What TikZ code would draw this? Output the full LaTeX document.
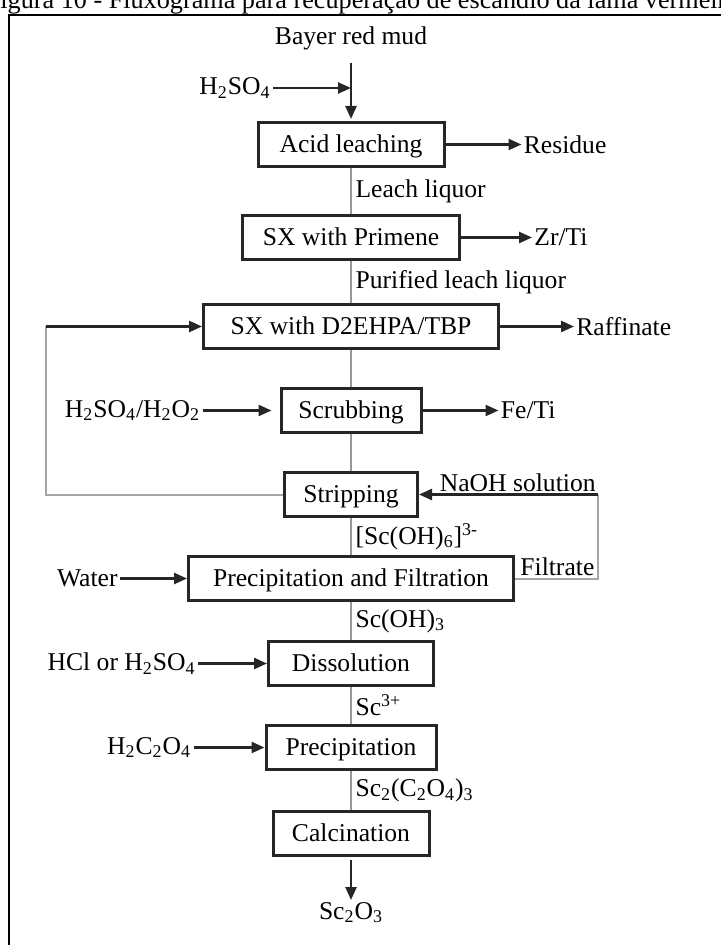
\documentclass[tikz,border=0pt]{standalone}
\usepackage{fontspec}
\setmainfont{Liberation Serif}
\usetikzlibrary{positioning, arrows.meta}
\tikzstyle{stepbox} = [rectangle, minimum height=22pt, text height=11pt, text depth=3pt, inner ysep=2pt, text centered, draw=black!85, line width=1.5pt]
\tikzstyle{chem} = [inner sep=1pt]
\tikzstyle{arrow} = [line width=1.2pt, draw=black!85, fill=black!85, -{Triangle[length=6.5pt,width=5.5pt]}]
\tikzstyle{flowline} = [draw=black!40, line width=0.6pt]
\tikzstyle{loopline} = [draw=black!35, line width=1pt]

\begin{document}
\begin{tikzpicture}[node distance=42pt, font=\fontsize{12.8}{15}\selectfont]
\useasboundingbox (0,0) rectangle (360pt,-472.5pt);

% caption and frame
\node (caption) [anchor=base west, inner sep=0pt, font=\fontsize{13.1}{15}\selectfont] at (-7.3pt,-4.5pt) {Figura 10 - Fluxograma para recuperação de escândio da lama vermelha};
\draw [line width=1.1pt] (4.5pt,-472.5pt) |- (362pt,-7.5pt);

% main column
\node (acid) [stepbox, minimum width=93pt] at (175.5pt,-72.25pt) {Acid leaching};
\node (mud) [chem, above of=acid, yshift=11pt] {Bayer red mud};
\node (primene) [stepbox, minimum width=108.5pt, below of=acid, yshift=-4.5pt] {SX with Primene};
\node (d2) [stepbox, minimum width=147.5pt, below of=primene, yshift=-2.5pt] {SX with D2EHPA/TBP};
\node (scrub) [stepbox, minimum width=70pt, below of=d2] {Scrubbing};
\node (strip) [stepbox, minimum width=66.5pt, below of=scrub] {Stripping};
\node (pf) [stepbox, minimum width=162.5pt, below of=strip] {Precipitation and Filtration};
\node (diss) [stepbox, minimum width=82.5pt, below of=pf, yshift=-0.5pt] {Dissolution};
\node (prec) [stepbox, minimum width=85pt, below of=diss] {Precipitation};
\node (calc) [stepbox, minimum width=78pt, below of=prec, yshift=-1pt] {Calcination};
\node (oxide) [chem, below=21.5pt of calc] {Sc\textsubscript{2}O\textsubscript{3}};

% feeds from the left
\coordinate (feedjoin) at ([yshift=-24.75pt]mud.center);
\node (acidfeed) [chem, left=39pt of feedjoin] {H\textsubscript{2}SO\textsubscript{4}};
\node (scrubfeed) [chem, left=38.5pt of scrub] {H\textsubscript{2}SO\textsubscript{4}/H\textsubscript{2}O\textsubscript{2}};
\node (water) [chem, left=33.5pt of pf] {Water};
\node (dissfeed) [chem, left=34.5pt of diss] {HCl or H\textsubscript{2}SO\textsubscript{4}};
\node (oxalic) [chem, left=35.5pt of prec] {H\textsubscript{2}C\textsubscript{2}O\textsubscript{4}};

% products to the right
\node (residue) [chem, right=38pt of acid] {Residue};
\node (zrti) [chem, right=35.5pt of primene] {Zr/Ti};
\node (raffinate) [chem, right=37pt of d2] {Raffinate};
\node (feti) [chem, right=38pt of scrub] {Fe/Ti};

% recycle corners
\coordinate (loopcorner) at ([xshift=-78pt]d2.west);
\coordinate (naohcorner) at ([xshift=89.5pt]strip.east);
\node (naoh) [chem, anchor=south east] at (naohcorner) {NaOH solution};
\node (filtrate) [chem, anchor=south west, xshift=1.5pt] at (pf.east) {Filtrate};

\draw [arrow, shorten <=5pt, shorten >=1pt] (mud) -- (acid);
\draw [arrow] (acidfeed.east) -- (feedjoin);
\draw [arrow] (acid.east) -- (residue.west);
\draw [flowline] (acid) -- node[chem, right, inner sep=2pt]{Leach liquor} (primene);
\draw [arrow] (primene.east) -- (zrti.west);
\draw [flowline] (primene) -- node[chem, right, inner sep=2pt]{Purified leach liquor} (d2);
\draw [arrow] (d2.east) -- (raffinate.west);
\draw [flowline] (d2) -- (scrub);
\draw [arrow, shorten >=4pt] (scrubfeed.east) -- (scrub.west);
\draw [arrow] (scrub.east) -- (feti.west);
\draw [flowline] (scrub) -- (strip);
\draw [loopline] (strip.west) -| (loopcorner);
\draw [arrow] (loopcorner) -- (d2.west);
\draw [loopline] (pf.east) -| (naohcorner);
\draw [arrow] (naohcorner) -- (strip.east);
\draw [flowline] (strip) -- node[chem, right, inner sep=2pt]{[Sc(OH)\textsubscript{6}]\textsuperscript{3-}} (pf);
\draw [arrow] (water.east) -- (pf.west);
\draw [flowline] (pf) -- node[chem, right, inner sep=2pt]{Sc(OH)\textsubscript{3}} (diss);
\draw [arrow] (dissfeed.east) -- (diss.west);
\draw [flowline] (diss) -- node[chem, right, inner sep=2pt]{Sc\textsuperscript{3+}} (prec);
\draw [arrow] (oxalic.east) -- (prec.west);
\draw [flowline] (prec) -- node[chem, right, inner sep=2pt]{Sc\textsubscript{2}(C\textsubscript{2}O\textsubscript{4})\textsubscript{3}} (calc);
\draw [arrow, shorten <=1.5pt] (calc) -- (oxide);

\end{tikzpicture}
\end{document}
